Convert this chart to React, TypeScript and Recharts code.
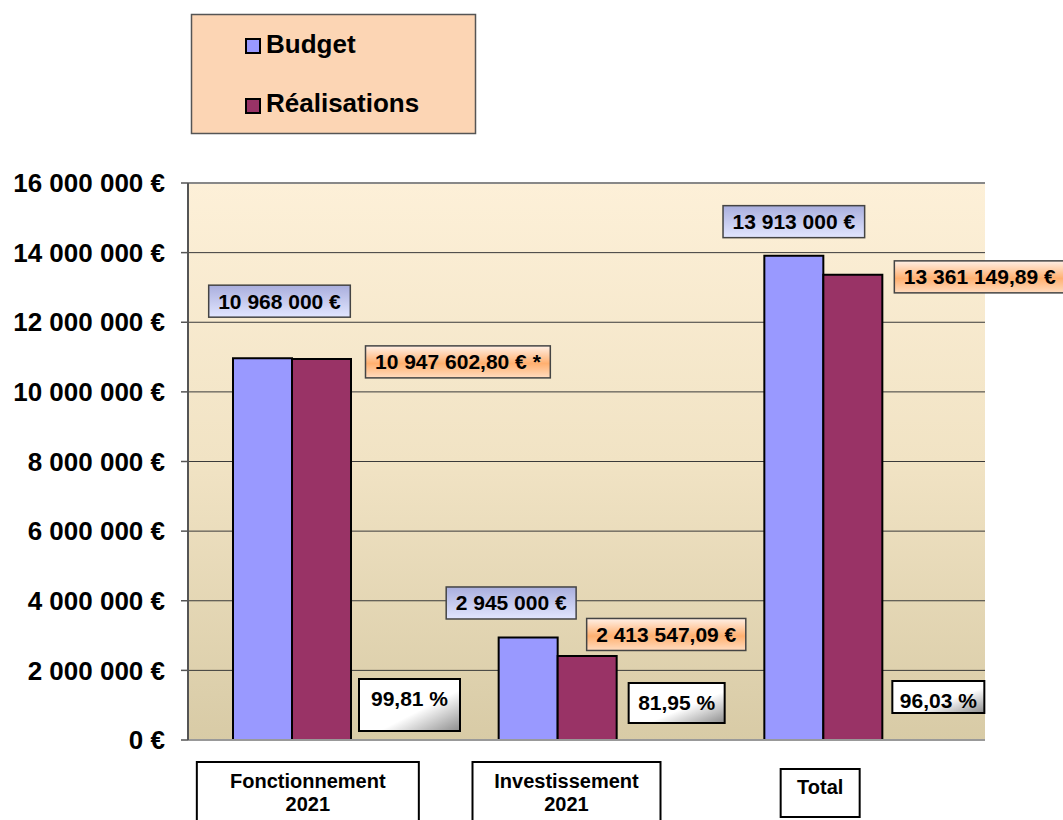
import React from "react";
import {
  BarChart,
  Bar,
  XAxis,
  YAxis,
  CartesianGrid,
  LabelList,
  ReferenceLine,
} from "recharts";

const FONT = "Arial, 'Liberation Sans', sans-serif";

// values
const categories = ["Fonctionnement 2021", "Investissement 2021", "Total"];
const categoryLines = [["Fonctionnement", "2021"], ["Investissement", "2021"], ["Total"]];
const budget = [10968000, 2945000, 13913000];
const realisations = [10947602.8, 2413547.09, 13361149.89];
const budgetLabels = ["10 968 000 €", "2 945 000 €", "13 913 000 €"];
const realLabels = ["10 947 602,80 € *", "2 413 547,09 €", "13 361 149,89 €"];
const pctLabels = ["99,81 %", "81,95 %", "96,03 %"];
const yTicks = [0, 2000000, 4000000, 6000000, 8000000, 10000000, 12000000, 14000000, 16000000];
const yTickLabels = [
  "0 €",
  "2 000 000 €",
  "4 000 000 €",
  "6 000 000 €",
  "8 000 000 €",
  "10 000 000 €",
  "12 000 000 €",
  "14 000 000 €",
  "16 000 000 €",
];

const data = categories.map((name, i) => ({
  name,
  budget: budget[i],
  realisations: realisations[i],
}));

// hand-placed label boxes (as moved in the original spreadsheet)
const budgetBoxShift = [
  { dx: 17, dy: -57 },
  { dx: -17, dy: -34.5 },
  { dx: 0, dy: -34 },
];
const realBoxShift = [
  { dx: 44, dy: 3 },
  { dx: -0.5, dy: -21.5 },
  { dx: 41.5, dy: 2 },
];
const pctBox = [
  { dx: 8, dy: -61, w: 101, h: 52 },
  { dx: 12, dy: -57, w: 96, h: 40 },
  { dx: 10, dy: -59, w: 92, h: 32 },
];
const tickBox = [
  { dx: 16, w: 222, top: 22, h: 70 },
  { dx: 9, w: 188, top: 22, h: 70 },
  { dx: -3, w: 79, top: 29, h: 48 },
];

let measureCtx: CanvasRenderingContext2D | null = null;
const textWidth = (s: string, size: number) => {
  if (!measureCtx) measureCtx = document.createElement("canvas").getContext("2d");
  if (!measureCtx) return s.length * size * 0.55;
  measureCtx.font = `bold ${size}px ${FONT}`;
  return measureCtx.measureText(s).width;
};

const geom = (props: any) => {
  const vb = props.viewBox || props;
  return {
    x: Number(vb.x),
    y: Number(vb.y),
    width: Number(vb.width),
    height: Number(vb.height),
    index: props.index as number,
  };
};

const BudgetLabel = (props: any) => {
  const { x, y, width, index } = geom(props);
  const text = budgetLabels[index];
  const w = textWidth(text, 21) + 19;
  const h = 32;
  const s = budgetBoxShift[index];
  const cx = x + width / 2 + s.dx;
  const cy = y + s.dy;
  return (
    <g>
      <rect x={cx - w / 2} y={cy - h / 2} width={w} height={h} fill="url(#budgetBox)" stroke="#444" strokeWidth={1.5} />
      <text x={cx} y={cy + 7.5} textAnchor="middle" fontFamily={FONT} fontWeight="bold" fontSize={21} fill="#000">
        {text}
      </text>
    </g>
  );
};

const RealLabel = (props: any) => {
  const { x, y, width, index } = geom(props);
  const text = realLabels[index];
  const w = textWidth(text, 21) + 19;
  const h = 32;
  const s = realBoxShift[index];
  const left = x + width / 2 + s.dx;
  const cy = y + s.dy;
  return (
    <g>
      <rect x={left} y={cy - h / 2} width={w} height={h} fill="url(#realBox)" stroke="#444" strokeWidth={1.5} />
      <text x={left + w / 2} y={cy + 7.5} textAnchor="middle" fontFamily={FONT} fontWeight="bold" fontSize={21} fill="#000">
        {text}
      </text>
    </g>
  );
};

const PctLabel = (props: any) => {
  const { x, y, width, height, index } = geom(props);
  const b = pctBox[index];
  const left = x + width + b.dx;
  const top = y + height + b.dy;
  return (
    <g>
      <rect x={left} y={top} width={b.w} height={b.h} fill="url(#pctBox)" stroke="#000" strokeWidth={2} />
      <text x={left + b.w / 2} y={top + 26.5} textAnchor="middle" fontFamily={FONT} fontWeight="bold" fontSize={21} fill="#000">
        {pctLabels[index]}
      </text>
    </g>
  );
};

const CategoryTick = (props: any) => {
  const { x, y, index } = props;
  const b = tickBox[index];
  const lines = categoryLines[index];
  const cx = x + b.dx;
  const top = y + b.top;
  return (
    <g>
      <rect x={cx - b.w / 2} y={top} width={b.w} height={b.h} fill="#fff" stroke="#000" strokeWidth={2} />
      {lines.map((line, i) => (
        <text
          key={i}
          x={cx}
          y={lines.length > 1 ? top + 26 + i * 23 : top + 25}
          textAnchor="middle"
          fontFamily={FONT}
          fontWeight="bold"
          fontSize={20}
          fill="#000"
        >
          {line}
        </text>
      ))}
    </g>
  );
};

const LegendBox = () => (
  <svg width={290} height={125} style={{ position: "absolute", left: 188, top: 11 }}>
    <rect x={3.5} y={3.5} width={284} height={119} fill="#FCD5B4" stroke="#555" strokeWidth={1.5} />
    <rect x={58} y={28} width={14} height={14} fill="#9999FF" stroke="#000" strokeWidth={2} />
    <text x={78} y={42} fontFamily={FONT} fontWeight="bold" fontSize={26} fill="#000">
      Budget
    </text>
    <rect x={58} y={88} width={14} height={14} fill="#993366" stroke="#000" strokeWidth={2} />
    <text x={78} y={101} fontFamily={FONT} fontWeight="bold" fontSize={26} fill="#000">
      Réalisations
    </text>
  </svg>
);

export default function App() {
  return (
    <div style={{ position: "absolute", left: 0, top: 0, width: 1063, height: 820, background: "#fff", overflow: "hidden" }}>
      <LegendBox />
      <BarChart
        width={1063}
        height={820}
        data={data}
        margin={{ top: 183, right: 78, bottom: 0, left: 0 }}
        barGap={0}
        style={{ position: "absolute", left: 0, top: 0 }}
      >
        <defs>
          <linearGradient id="plotBg" x1="0" y1="0" x2="0" y2="1">
            <stop offset="0%" stopColor="#FDF0D8" />
            <stop offset="50%" stopColor="#F1E3C4" />
            <stop offset="100%" stopColor="#D8CBA6" />
          </linearGradient>
          <linearGradient id="budgetBox" x1="0" y1="0" x2="0" y2="1">
            <stop offset="0%" stopColor="#A9AEDD" />
            <stop offset="100%" stopColor="#E2E6FF" />
          </linearGradient>
          <linearGradient id="realBox" x1="0" y1="0" x2="0" y2="1">
            <stop offset="0%" stopColor="#FFF0E6" />
            <stop offset="55%" stopColor="#FFB070" />
            <stop offset="100%" stopColor="#FFDCC0" />
          </linearGradient>
          <linearGradient id="pctBox" x1="0" y1="0" x2="1" y2="1">
            <stop offset="0%" stopColor="#FFFFFF" />
            <stop offset="60%" stopColor="#FFFFFF" />
            <stop offset="100%" stopColor="#8C8C8C" />
          </linearGradient>
        </defs>
        <CartesianGrid vertical={false} stroke="#3a3a3a" fill="url(#plotBg)" fillOpacity={1} />
        <XAxis
          dataKey="name"
          height={80}
          padding={{ left: -29, right: 29 }}
          axisLine={{ stroke: "#999", strokeWidth: 2 }}
          tickLine={false}
          tickSize={0}
          tickMargin={0}
          interval={0}
          tick={<CategoryTick />}
        />
        <YAxis
          width={188}
          domain={[0, 16000000]}
          ticks={yTicks}
          interval={0}
          tickSize={7}
          tickMargin={16}
          axisLine={{ stroke: "#555", strokeWidth: 2 }}
          tickLine={{ stroke: "#555", strokeWidth: 1.5 }}
          tickFormatter={(_v: number, i: number) => yTickLabels[i]}
          tick={{ fill: "#000", fontSize: 26, fontWeight: "bold", fontFamily: FONT }}
        />
        <YAxis
          yAxisId="frame"
          orientation="right"
          width={0}
          domain={[0, 16000000]}
          tick={false}
          tickLine={false}
          axisLine={{ stroke: "#888", strokeWidth: 2 }}
        />
        <ReferenceLine y={16000000} stroke="#888" strokeWidth={2} />
        <Bar dataKey="budget" fill="#9999FF" stroke="#000" strokeWidth={2} barSize={59} isAnimationActive={false}>
          <LabelList dataKey="budget" content={<BudgetLabel />} />
        </Bar>
        <Bar dataKey="realisations" fill="#993366" stroke="#000" strokeWidth={2} barSize={59} isAnimationActive={false}>
          <LabelList dataKey="realisations" content={<RealLabel />} />
          <LabelList dataKey="realisations" content={<PctLabel />} />
        </Bar>
      </BarChart>
    </div>
  );
}
